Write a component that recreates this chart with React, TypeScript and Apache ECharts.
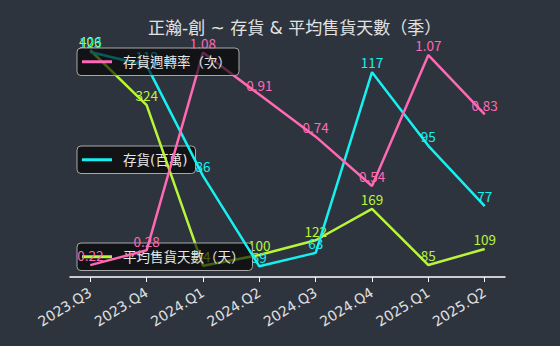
import React, { useEffect, useRef } from "react";
import * as echarts from "echarts";

const categories = ["2023.Q3", "2023.Q4", "2024.Q1", "2024.Q2", "2024.Q3", "2024.Q4", "2025.Q1", "2025.Q2"];
const turnover = [0.22, 0.28, 1.08, 0.91, 0.74, 0.54, 1.07, 0.83];
const inventory = [123, 119, 86, 59, 63, 117, 95, 77];
const days = [406, 324, 84, 100, 122, 169, 85, 109];

const nameTurnover = "存貨週轉率（次）";
const nameInventory = "存貨(百萬)";
const nameDays = "平均售貨天數（天）";

const PINK = "#ff69b4";
const CYAN = "#17f0f0";
const GREEN = "#b8f53a";
const FONT = "'DejaVu Sans', 'Noto Sans CJK TC', sans-serif";
const CJK = "'Noto Sans CJK TC', 'DejaVu Sans', sans-serif";

const pairs = (arr: number[]) => arr.map((v, i) => [i, v]);

export default function App() {
  const ref = useRef<HTMLDivElement>(null);
  useEffect(() => {
    if (!ref.current) return;
    const chart = echarts.init(ref.current, undefined, { renderer: "svg" });
    const legendBase = {
      left: 77,
      orient: "horizontal",
      icon: "rect",
      itemWidth: 30,
      itemHeight: 3,
      padding: [7, 8, 7, 5],
      backgroundColor: "rgba(0,0,0,0.62)",
      borderColor: "#a8a8a8",
      borderWidth: 1,
      borderRadius: 4,
      textStyle: { color: "#e6e6e6", fontSize: 13.5, fontFamily: FONT, padding: [0, 0, 0, 6] },
      selectedMode: false,
    };
    const labelBase = (color: string, fmt?: (p: any) => string) => ({
      show: true,
      position: "top",
      distance: 3,
      color,
      fontSize: 13.5,
      fontFamily: CJK,
      formatter: fmt || ((p: any) => String(p.value[1])),
    });
    const lineSeries = (name: string, axis: number, z: number, data: number[], color: string, fmt?: (p: any) => string) => ({
      name,
      type: "line",
      yAxisIndex: axis,
      z,
      data: pairs(data),
      symbol: "circle",
      symbolSize: 0,
      showSymbol: true,
      lineStyle: { color, width: 2.5 },
      itemStyle: { color },
      label: labelBase(color, fmt),
    });
    chart.setOption({
      animation: false,
      backgroundColor: "#2e343e",
      title: {
        text: "正瀚-創 ~ 存貨 & 平均售貨天數（季）",
        left: 143,
        top: 14,
        textStyle: { color: "#e2e2e2", fontSize: 17, fontWeight: "normal", fontFamily: FONT },
      },
      legend: [
        { ...legendBase, top: 48, data: [nameTurnover], z: 10, zlevel: 1 },
        { ...legendBase, top: 146, data: [nameInventory], z: 1 },
        { ...legendBase, top: 243, data: [nameDays], z: 3 },
      ],
      grid: { left: 70, right: 55, top: 40, bottom: 69 },
      xAxis: {
        type: "value",
        min: -0.36,
        max: 7.36,
        axisLine: { show: true, onZero: false, lineStyle: { color: "#ffffff", width: 1.5 } },
        axisTick: { show: true, customValues: categories.map((_, i) => i), length: 5, lineStyle: { color: "#ffffff" } },
        axisLabel: {
          customValues: categories.map((_, i) => i),
          formatter: (v: number) => categories[Math.round(v)] ?? "",
          rotate: 32,
          color: "#e0e0e0",
          fontSize: 14,
          fontFamily: FONT,
          margin: 14,
        },
        splitLine: { show: false },
      },
      yAxis: [
        { type: "value", show: false, min: 0.172, max: 1.131, splitLine: { show: false } },
        { type: "value", show: false, min: 55.8, max: 126.6, splitLine: { show: false } },
        { type: "value", show: false, min: 67.1, max: 421.3, splitLine: { show: false } },
      ],
      series: [
        lineSeries(nameDays, 2, 2, days, GREEN),
        lineSeries(nameInventory, 1, 4, inventory, CYAN),
        lineSeries(nameTurnover, 0, 4, turnover, PINK, (p: any) => Number(p.value[1]).toFixed(2)),
      ],
    });
    return () => chart.dispose();
  }, []);
  return <div ref={ref} style={{ width: 560, height: 346, position: "absolute", left: 0, top: 0 }} />;
}
